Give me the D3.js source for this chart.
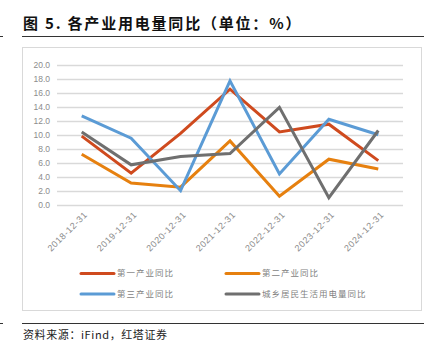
<!DOCTYPE html>
<html><head><meta charset="utf-8">
<script src="https://cdn.jsdelivr.net/npm/d3@7"></script>
<style>
html,body{margin:0;padding:0;background:#fff;}
svg{display:block;}
</style></head>
<body>
<script>
const categories = ["2018-12-31","2019-12-31","2020-12-31","2021-12-31","2022-12-31","2023-12-31","2024-12-31"];
const primary   = [9.8, 4.5, 10.2, 16.5, 10.4, 11.5, 6.3];
const secondary = [7.2, 3.1, 2.5, 9.1, 1.2, 6.5, 5.1];
const tertiary  = [12.7, 9.5, 2.0, 17.7, 4.4, 12.2, 10.0];
const resident  = [10.4, 5.7, 6.9, 7.3, 13.9, 1.0, 10.6];
const seriesNames = ["第一产业同比","第二产业同比","第三产业同比","城乡居民生活用电量同比"];
const yTicks = [0,2,4,6,8,10,12,14,16,18,20];
const title = "图 5. 各产业用电量同比（单位：%）";
const source = "资料来源：iFind，红塔证券";

const colors = ["#CF4A1E","#E6800F","#5B9BD5","#6F6F6F"];
const seriesData = [primary, secondary, tertiary, resident];

const W = 438, H = 352;
const svg = d3.select("body").append("svg").attr("width", W).attr("height", H);

// title
svg.append("text").attr("x", 23).attr("y", 29)
  .attr("font-family", "Noto Sans CJK SC, sans-serif").attr("font-weight", "bold")
  .attr("font-size", 15).attr("letter-spacing", 1.8).attr("fill", "#111").text(title);
// rule lines
svg.append("line").attr("x1", 22).attr("x2", 424).attr("y1", 36.5).attr("y2", 36.5).attr("stroke", "#333").attr("stroke-width", 1);
svg.append("line").attr("x1", 0).attr("x2", 3).attr("y1", 36.5).attr("y2", 36.5).attr("stroke", "#333").attr("stroke-width", 1);
svg.append("line").attr("x1", 22).attr("x2", 424).attr("y1", 323.5).attr("y2", 323.5).attr("stroke", "#333").attr("stroke-width", 1);
svg.append("line").attr("x1", 0).attr("x2", 3).attr("y1", 323.5).attr("y2", 323.5).attr("stroke", "#333").attr("stroke-width", 1);

// chart box
svg.append("rect").attr("x", 22.5).attr("y", 47.5).attr("width", 399).attr("height", 263)
  .attr("fill", "none").attr("stroke", "#d9d9d9").attr("stroke-width", 1);

// source
svg.append("text").attr("x", 23).attr("y", 339)
  .attr("font-family", "Noto Sans CJK SC, sans-serif").attr("font-size", 11)
  .attr("letter-spacing", 0.6).attr("fill", "#222").text(source);

const x = d3.scaleBand().domain(categories).range([57, 403]);
const y = d3.scaleLinear().domain([0, 20]).range([204.7, 64.7]);

// grid
svg.append("g").selectAll("line").data(yTicks).join("line")
  .attr("x1", 57).attr("x2", 403)
  .attr("y1", d => Math.round(y(d)) + 0.5).attr("y2", d => Math.round(y(d)) + 0.5)
  .attr("stroke", "#d9d9d9").attr("stroke-width", 1.3);

// y axis labels
const yAxis = d3.axisLeft(y).tickValues(yTicks).tickFormat(d3.format(".1f")).tickSize(0).tickPadding(0);
const gy = svg.append("g").attr("transform", "translate(50,0)").call(yAxis);
gy.select(".domain").remove();
gy.selectAll("text").attr("font-family", "Liberation Sans, Arial, sans-serif").attr("font-size", 8.5).attr("fill", "#8c8c8c");

// x axis labels
const xAxis = d3.axisBottom(x).tickSize(0).tickPadding(0);
const gx = svg.append("g").attr("transform", "translate(0,210)").call(xAxis);
gx.select(".domain").remove();
gx.selectAll("text")
  .attr("font-family", "Liberation Sans, Arial, sans-serif").attr("font-size", 9).attr("letter-spacing", 0.6)
  .attr("fill", "#8c8c8c")
  .attr("text-anchor", "end").attr("dy", "0.35em")
  .attr("transform", "translate(4,3) rotate(-45)");

// lines
const line = d3.line().x((d, i) => x(categories[i]) + x.bandwidth() / 2).y(d => y(d));
seriesData.forEach((s, k) => {
  svg.append("path").datum(s).attr("d", line).attr("fill", "none")
    .attr("stroke", colors[k]).attr("stroke-width", 3).attr("stroke-linejoin", "miter");
});

// legend
const legPos = [[81, 273.5], [226, 273.5], [81, 294], [226, 294]];
seriesNames.forEach((n, k) => {
  const [lx, ly] = legPos[k];
  svg.append("line").attr("x1", lx).attr("x2", lx + 33).attr("y1", ly).attr("y2", ly)
    .attr("stroke", colors[k]).attr("stroke-width", 3).attr("stroke-linecap", "round");
  svg.append("text").attr("x", lx + 36).attr("y", ly).attr("dy", "0.35em")
    .attr("font-family", "Noto Sans CJK SC, sans-serif").attr("font-size", 8.5)
    .attr("letter-spacing", 1).attr("fill", "#7f7f7f").text(n);
});
</script>
</body></html>
